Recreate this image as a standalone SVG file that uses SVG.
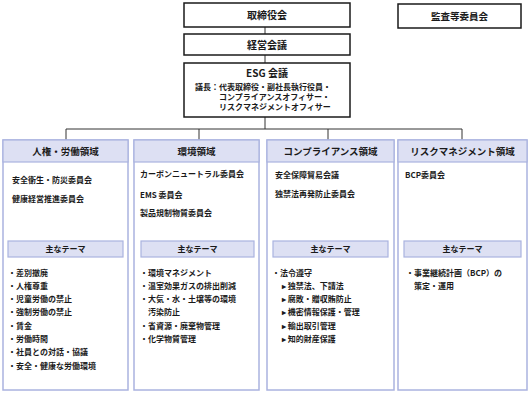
<svg xmlns="http://www.w3.org/2000/svg" width="529" height="394" viewBox="0 0 529 394">
<style>
text{font-family:"Noto Sans CJK JP","Noto Sans",sans-serif;font-weight:bold;fill:#1a1a1a}
.top{fill:#fff;stroke:#1a1a1a;stroke-width:1.5}
.col{fill:#fff;stroke:#aab3df;stroke-width:1.5}
.hd{fill:#dde0f3;stroke:#aab3df;stroke-width:1.2}
.t10{font-size:10px}
.t9{font-size:9.5px}
.t8{font-size:8px}
.mid{text-anchor:middle}
.ln{fill:none;stroke:#333;stroke-width:1}
</style>
<rect width="529" height="394" fill="#fff"/>
<g id="connectors">
<line class="ln" x1="265" y1="27" x2="265" y2="34"/>
<line class="ln" x1="265" y1="55" x2="265" y2="63"/>
<line class="ln" x1="265" y1="117" x2="265" y2="129"/>
<polyline class="ln" points="66,140 66,129 462,129 462,140"/>
<line class="ln" x1="199" y1="129" x2="199" y2="140"/>
<line class="ln" x1="328" y1="129" x2="328" y2="140"/>
</g>
<g id="board">
<rect class="top" x="184" y="3" width="166" height="24"/>
<text class="t10 mid" x="267" y="19">取締役会</text>
</g>
<g id="audit">
<rect class="top" x="398" y="4" width="123" height="24"/>
<text class="t9 mid" x="459.5" y="19.5">監査等委員会</text>
</g>
<g id="mgmt">
<rect class="top" x="184" y="34" width="166" height="21"/>
<text class="t10 mid" x="267" y="48.5">経営会議</text>
</g>
<g id="esg">
<rect class="top" x="184" y="63" width="166" height="54"/>
<text class="t10 mid" x="267" y="77">ESG 会議</text>
<text class="t8" x="195" y="90">議長：代表取締役・副社長執行役員・</text>
<text class="t8" x="219" y="100">コンプライアンスオフィサー・</text>
<text class="t8" x="219" y="110">リスクマネジメントオフィサー</text>
</g>
<g id="col-hr">
<rect class="col" x="3" y="140" width="125" height="250"/>
<rect class="hd" x="3" y="140" width="125" height="22"/>
<text class="t9 mid" x="65.5" y="155">人権・労働領域</text>
<text class="t8" x="12" y="183">安全衛生・防災委員会</text>
<text class="t8" x="12" y="202">健康経営推進委員会</text>
<rect class="hd" x="8" y="241" width="115" height="16"/>
<text class="t8 mid" x="65.5" y="252">主なテーマ</text>
<text class="t8" x="8" y="275.5">・差別撤廃</text>
<text class="t8" x="8" y="288.8">・人権尊重</text>
<text class="t8" x="8" y="302.1">・児童労働の禁止</text>
<text class="t8" x="8" y="315.4">・強制労働の禁止</text>
<text class="t8" x="8" y="328.7">・賃金</text>
<text class="t8" x="8" y="342">・労働時間</text>
<text class="t8" x="8" y="355.3">・社員との対話・協議</text>
<text class="t8" x="8" y="368.6">・安全・健康な労働環境</text>
</g>
<g id="col-env">
<rect class="col" x="134" y="140" width="125" height="250"/>
<rect class="hd" x="134" y="140" width="125" height="22"/>
<text class="t9 mid" x="196.5" y="155">環境領域</text>
<text class="t8" x="140" y="177">カーボンニュートラル委員会</text>
<text class="t8" x="140" y="198">EMS 委員会</text>
<text class="t8" x="140" y="216">製品規制物質委員会</text>
<rect class="hd" x="141" y="241" width="113" height="16"/>
<text class="t8 mid" x="197.5" y="252">主なテーマ</text>
<text class="t8" x="140" y="275.5">・環境マネジメント</text>
<text class="t8" x="140" y="288.8">・温室効果ガスの排出削減</text>
<text class="t8" x="140" y="302.1">・大気・水・土壌等の環境</text>
<text class="t8" x="148" y="315.4">汚染防止</text>
<text class="t8" x="140" y="328.7">・省資源・廃棄物管理</text>
<text class="t8" x="140" y="342">・化学物質管理</text>
</g>
<g id="col-comp">
<rect class="col" x="267" y="140" width="127" height="250"/>
<rect class="hd" x="267" y="140" width="127" height="22"/>
<text class="t9 mid" x="330.5" y="155">コンプライアンス領域</text>
<text class="t8" x="275" y="178">安全保障貿易会議</text>
<text class="t8" x="275" y="197">独禁法再発防止委員会</text>
<rect class="hd" x="273" y="241" width="115" height="16"/>
<text class="t8 mid" x="330.5" y="252">主なテーマ</text>
<text class="t8" x="272" y="275.5">・法令遵守</text>
<text class="t8" x="282" y="288.8">▸ 独禁法、下請法</text>
<text class="t8" x="282" y="302.1">▸ 腐敗・贈収賄防止</text>
<text class="t8" x="282" y="315.4">▸ 機密情報保護・管理</text>
<text class="t8" x="282" y="328.7">▸ 輸出取引管理</text>
<text class="t8" x="282" y="342">▸ 知的財産保護</text>
</g>
<g id="col-risk">
<rect class="col" x="398" y="140" width="129" height="250"/>
<rect class="hd" x="398" y="140" width="129" height="22"/>
<text class="t9 mid" x="462.5" y="155">リスクマネジメント領域</text>
<text class="t8" x="405" y="178">BCP委員会</text>
<rect class="hd" x="404" y="241" width="117" height="16"/>
<text class="t8 mid" x="462.5" y="252">主なテーマ</text>
<text class="t8" x="406" y="275.5">・事業継続計画（BCP）の</text>
<text class="t8" x="414" y="288.8">策定・運用</text>
</g>
</svg>
